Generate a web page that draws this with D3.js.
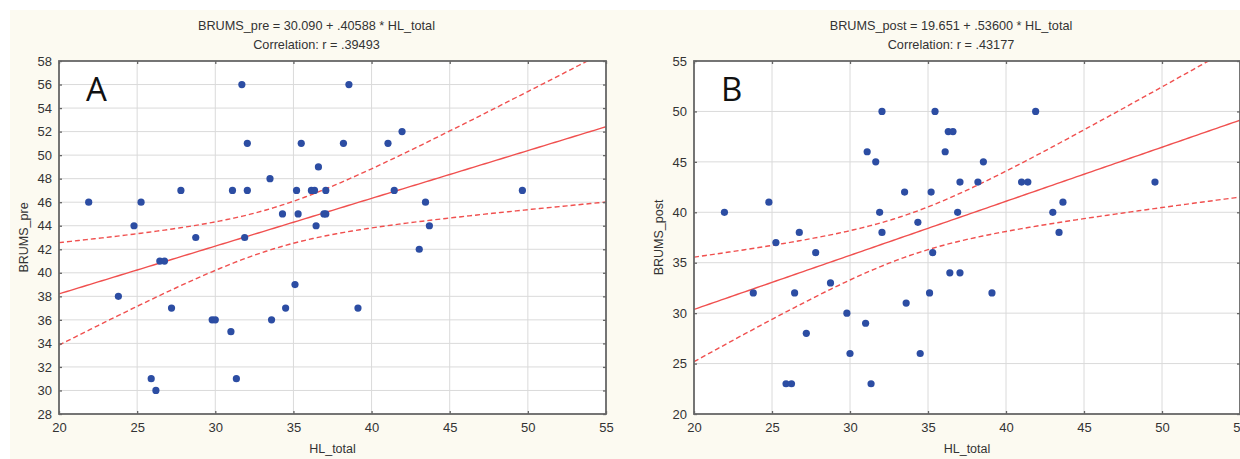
<!DOCTYPE html>
<html>
<head>
<meta charset="utf-8">
<script src="https://cdn.jsdelivr.net/npm/d3@7"></script>
<style>
  body { margin: 0; background: #fff; }
  svg { display: block; font-family: Arial, "Liberation Sans", sans-serif; }
</style>
</head>
<body>
<svg id="chart" width="1240" height="459"></svg>
<script>
// Panel A: HL_total vs BRUMS_pre
const hlPre = [21.9, 23.8, 24.8, 25.25, 25.9, 26.2, 26.45, 26.75, 27.2, 27.8, 28.75, 29.8, 30.0, 31.0, 31.1,
  31.35, 31.7, 31.88, 32.05, 32.05, 33.5, 33.6, 34.3, 34.5, 35.1, 35.2, 35.3, 35.5, 36.15, 36.35,
  36.45, 36.6, 36.95, 37.07, 37.07, 38.2, 38.55, 39.13, 41.05, 41.45, 41.95, 43.05, 43.45, 43.7, 49.65];
const brumsPre = [46, 38, 44, 46, 31, 30, 41, 41, 37, 47, 43, 36, 36, 35, 47,
  31, 56, 43, 51, 47, 48, 36, 45, 37, 39, 47, 45, 51, 47, 47,
  44, 49, 45, 45, 47, 51, 56, 37, 51, 47, 52, 42, 46, 44, 47];

// Panel B: HL_total vs BRUMS_post
const hlPost = [21.95, 23.8, 24.8, 25.25, 25.9, 26.25, 26.45, 26.75, 27.2, 27.8, 28.75, 29.8, 30.0, 31.0, 31.1,
  31.35, 31.65, 31.9, 32.05, 32.05, 33.5, 33.6, 34.35, 34.5, 35.1, 35.2, 35.3, 35.45, 36.1, 36.3,
  36.4, 36.6, 36.9, 37.05, 37.05, 38.2, 38.55, 39.1, 41.0, 41.4, 41.9, 43.0, 43.4, 43.65, 49.55];
const brumsPost = [40, 32, 41, 37, 23, 23, 32, 38, 28, 36, 33, 30, 26, 29, 46,
  23, 45, 40, 50, 38, 42, 31, 39, 26, 32, 42, 36, 50, 46, 48,
  34, 48, 40, 43, 34, 43, 45, 32, 43, 43, 50, 40, 38, 41, 43];

// fitted coefficients as printed in the titles
const fitA = { a: 30.090, b: 0.40588, r: ".39493" };
const fitB = { a: 19.651, b: 0.53600, r: ".43177" };

const xTicks = [20, 25, 30, 35, 40, 45, 50, 55];
const yTicksA = [28, 30, 32, 34, 36, 38, 40, 42, 44, 46, 48, 50, 52, 54, 56, 58];
const yTicksB = [20, 25, 30, 35, 40, 45, 50, 55];

const svg = d3.select("#chart");

// cream page background
svg.append("rect").attr("x", 10).attr("y", 10).attr("width", 1230).attr("height", 449)
  .attr("fill", "#fcfaf1");

const panels = [
  { id: "A", xs: hlPre, ys: brumsPre, fit: fitA, yName: "BRUMS_pre", yTicks: yTicksA,
    left: 59, right: 606, yLab: 28 },
  { id: "B", xs: hlPost, ys: brumsPost, fit: fitB, yName: "BRUMS_post", yTicks: yTicksB,
    left: 694, right: 1240, yLab: 663 }
];
const plotTop = 61, plotBottom = 414;

// half-width of the 95% confidence band of the mean prediction
function bandWidth(xs, ys, fit) {
  const n = xs.length, xbar = d3.mean(xs);
  const sxx = d3.sum(xs, x => (x - xbar) ** 2);
  const sse = d3.sum(xs, (x, i) => (ys[i] - fit.a - fit.b * x) ** 2);
  const s = Math.sqrt(sse / (n - 2)), t = 2.017;
  return x => t * s * Math.sqrt(1 / n + (x - xbar) ** 2 / sxx);
}

panels.forEach(p => {
  const x = d3.scaleLinear().domain([20, 55]).range([p.left, p.right]);
  const y = d3.scaleLinear().domain(d3.extent(p.yTicks)).range([plotBottom, plotTop]);
  const g = svg.append("g");
  const w = p.right - p.left, h = plotBottom - plotTop;

  g.append("rect").attr("x", p.left).attr("y", plotTop)
    .attr("width", w).attr("height", h).attr("fill", "#fff");

  const clip = "clip" + p.id;
  g.append("clipPath").attr("id", clip).append("rect")
    .attr("x", p.left).attr("y", plotTop).attr("width", w).attr("height", h);

  // grid
  g.append("g").selectAll("line").data(xTicks.slice(1, -1)).join("line")
    .attr("x1", d => x(d)).attr("x2", d => x(d)).attr("y1", plotTop).attr("y2", plotBottom)
    .attr("stroke", "#dadada").attr("stroke-width", 1);
  g.append("g").selectAll("line").data(p.yTicks.slice(1, -1)).join("line")
    .attr("x1", p.left).attr("x2", p.right).attr("y1", d => y(d)).attr("y2", d => y(d))
    .attr("stroke", "#dadada").attr("stroke-width", 1);

  // regression line and confidence band
  const hw = bandWidth(p.xs, p.ys, p.fit);
  const grid = d3.range(20, 55.001, 0.25);
  const line = d3.line().x(d => x(d[0])).y(d => y(d[1]));
  const lines = g.append("g").attr("clip-path", `url(#${clip})`);
  lines.append("path")
    .attr("d", line(grid.map(v => [v, p.fit.a + p.fit.b * v])))
    .attr("fill", "none").attr("stroke", "#f0504f").attr("stroke-width", 1.4);
  [1, -1].forEach(sign => {
    lines.append("path")
      .attr("d", line(grid.map(v => [v, p.fit.a + p.fit.b * v + sign * hw(v)])))
      .attr("fill", "none").attr("stroke", "#f0504f").attr("stroke-width", 1.4)
      .attr("stroke-dasharray", "5,3");
  });

  // points
  g.append("g").selectAll("circle").data(p.xs).join("circle")
    .attr("cx", d => x(d)).attr("cy", (d, i) => y(p.ys[i])).attr("r", 3.6)
    .attr("fill", "#2c4da3");

  // frame + axes
  g.append("rect").attr("x", p.left).attr("y", plotTop)
    .attr("width", w).attr("height", h)
    .attr("fill", "none").attr("stroke", "#666").attr("stroke-width", 1.8);

  const xAxis = g.append("g").attr("transform", `translate(0,${plotBottom})`)
    .call(d3.axisBottom(x).tickValues(xTicks).tickFormat(d3.format("d")).tickSizeInner(-3).tickSizeOuter(0).tickPadding(9));
  const yAxis = g.append("g").attr("transform", `translate(${p.left},0)`)
    .call(d3.axisLeft(y).tickValues(p.yTicks).tickFormat(d3.format("d")).tickSizeInner(-3).tickSizeOuter(0).tickPadding(7));
  g.append("g").attr("transform", `translate(0,${plotTop})`)
    .call(d3.axisTop(x).tickValues(xTicks).tickFormat("").tickSizeInner(-3).tickSizeOuter(0));
  g.append("g").attr("transform", `translate(${p.right},0)`)
    .call(d3.axisRight(y).tickValues(p.yTicks).tickFormat("").tickSizeInner(-3).tickSizeOuter(0));
  g.selectAll(".domain").remove();
  g.selectAll(".tick line").attr("stroke", "#666").attr("stroke-width", 1.3);
  [xAxis, yAxis].forEach(a => a.selectAll("text")
    .attr("font-size", 13).attr("fill", "#333").attr("font-family", "Arial, 'Liberation Sans', sans-serif"));

  // labels
  const cx = (p.left + p.right) / 2;
  g.append("text").attr("x", cx).attr("y", 453).attr("text-anchor", "middle")
    .attr("font-size", 12.5).attr("fill", "#333").text("HL_total");
  g.append("text").attr("transform", `translate(${p.yLab},${(plotTop + plotBottom) / 2}) rotate(-90)`)
    .attr("text-anchor", "middle").attr("font-size", 12.5).attr("fill", "#333").text(p.yName);

  const eq = `${p.yName} = ${p.fit.a.toFixed(3)} + ${d3.format(".5f")(p.fit.b).replace(/^0/, "")} * HL_total`;
  g.append("text").attr("x", cx - 16).attr("y", 30).attr("text-anchor", "middle")
    .attr("font-size", 12.7).attr("fill", "#333").text(eq);
  g.append("text").attr("x", cx - 16).attr("y", 49).attr("text-anchor", "middle")
    .attr("font-size", 12.7).attr("fill", "#333").text(`Correlation: r = ${p.fit.r}`);

  g.append("text").attr("x", p.left + 27).attr("y", 101)
    .attr("font-family", "'Open Sans', Calibri, sans-serif").attr("font-size", 33)
    .attr("fill", "#111").text(p.id);
});
</script>
</body>
</html>
